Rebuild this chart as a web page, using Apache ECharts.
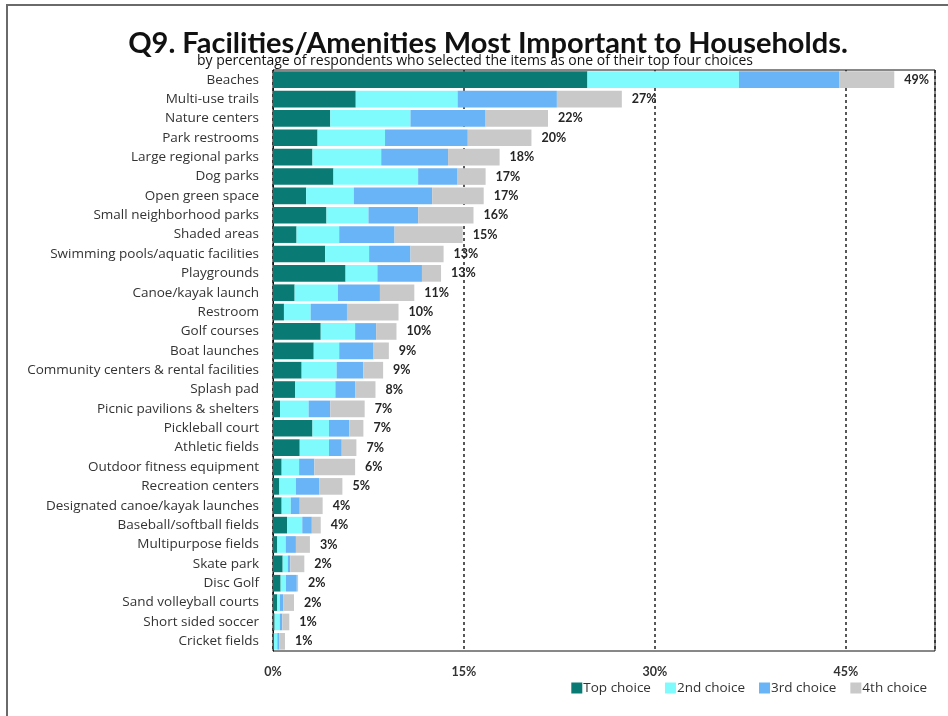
<!DOCTYPE html>
<html>
<head>
<meta charset="utf-8">
<script src="https://cdn.jsdelivr.net/npm/echarts@6/dist/echarts.min.js"></script>
<style>
html,body{margin:0;padding:0;background:#fff;}
#c{width:948px;height:716px;}
</style>
</head>
<body>
<div id="c"></div>
<script>
const categories = [
  "Beaches","Multi-use trails","Nature centers","Park restrooms","Large regional parks",
  "Dog parks","Open green space","Small neighborhood parks","Shaded areas","Swimming pools/aquatic facilities",
  "Playgrounds","Canoe/kayak launch","Restroom","Golf courses","Boat launches",
  "Community centers & rental facilities","Splash pad","Picnic pavilions & shelters","Pickleball court","Athletic fields",
  "Outdoor fitness equipment","Recreation centers","Designated canoe/kayak launches","Baseball/softball fields","Multipurpose fields",
  "Skate park","Disc Golf","Sand volleyball courts","Short sided soccer","Cricket fields"
];
const topChoice = [24.7,6.5,4.5,3.5,3.1,4.75,2.6,4.2,1.85,4.1,5.7,1.7,0.86,3.75,3.2,2.25,1.75,0.55,3.1,2.1,0.68,0.5,0.68,1.1,0.34,0.76,0.6,0.34,0.13,0.08];
const secondChoice = [11.9,8.0,6.3,5.3,5.4,6.65,3.75,3.3,3.35,3.45,2.5,3.4,2.1,2.7,2.0,2.75,3.15,2.25,1.3,2.3,1.37,1.3,0.72,1.2,0.66,0.4,0.42,0.2,0.4,0.26];
const thirdChoice = [7.9,7.8,5.9,6.5,5.25,3.1,6.15,3.9,4.35,3.25,3.5,3.3,2.85,1.65,2.7,2.1,1.55,1.7,1.6,1.0,1.2,1.85,0.7,0.75,0.8,0.2,0.85,0.26,0.2,0.15];
const fourthChoice = [4.3,5.1,4.9,5.0,4.05,2.2,4.05,4.35,5.35,2.6,1.5,2.7,4.05,1.6,1.2,1.55,1.6,2.7,1.1,1.15,3.2,1.8,1.8,0.7,1.1,1.1,0.1,0.85,0.55,0.45];
const totals = [49,27,22,20,18,17,17,16,15,13,13,11,10,10,9,9,8,7,7,7,6,5,4,4,3,2,2,2,1,1];
const seriesNames = ["Top choice","2nd choice","3rd choice","4th choice"];
const xTicks = [0,15,30,45];

const colors = ["#0a7b74","#80fbfd","#68b4f6","#c9c9c9"];
const FONT = "Lato";
const FONT2 = "Open Sans";

const chart = echarts.init(document.getElementById('c'), null, {renderer:'canvas'});
const dataSets = [topChoice, secondChoice, thirdChoice, fourthChoice];
const series = dataSets.map((d, i) => ({
  name: seriesNames[i],
  type: 'bar',
  stack: 'total',
  barCategoryGap: '14%',
  itemStyle: {color: colors[i]},
  data: d,
  label: i === 3 ? {
    show: true,
    position: 'right',
    distance: 10,
    fontFamily: FONT,
    fontWeight: 'bold',
    fontSize: 12.5,
    color: '#262626',
    formatter: p => totals[p.dataIndex] + '%'
  } : {show:false}
}));

chart.setOption({
  animation: false,
  backgroundColor: '#fff',
  color: colors,
  title: [{
    text: 'Q9. Facilities/Amenities Most Important to Households.',
    left: 483, textAlign: 'center', top: 24,
    textStyle: {fontFamily: FONT, fontWeight: 'bold', fontSize: 29, color: '#111'}
  },{
    text: 'by percentage of respondents who selected the items as one of their top four choices',
    left: 470, textAlign: 'center', top: 49,
    textStyle: {fontFamily: FONT2, fontWeight: 'normal', fontSize: 14, color: '#111'}
  }],
  legend: {
    data: seriesNames,
    right: 16, top: 676,
    itemWidth: 11, itemHeight: 11, itemGap: 14,
    icon: 'rect',
    textStyle: {fontFamily: FONT2, fontSize: 13.5, color: '#333', padding: [0,0,0,-4]}
  },
  graphic: [{
    type: 'rect',
    shape: {x: 7, y: 5, width: 1200, height: 1000},
    style: {fill: 'none', stroke: '#6a6a6a', lineWidth: 2},
    silent: true
  }],
  grid: {
    left: 273, right: 13, top: 70, bottom: 65,
    show: true, borderColor: '#111', borderWidth: 1, backgroundColor: 'transparent'
  },
  xAxis: {
    type: 'value', min: 0, max: 52, interval: 15,
    axisLine: {show: false},
    axisTick: {show: false},
    splitLine: {show: true, lineStyle: {color: '#222', type: [3,3], width: 1.5}},
    axisLabel: {
      margin: 14,
      fontFamily: FONT, fontWeight: 'bold', fontSize: 12.5, color: '#333',
      formatter: v => xTicks.indexOf(v) >= 0 ? v + '%' : '',
      showMaxLabel: false
    }
  },
  yAxis: {
    type: 'category', data: categories, inverse: true,
    axisLine: {show: true, lineStyle: {color: '#111'}},
    axisTick: {show: false},
    axisLabel: {margin: 14, fontFamily: FONT2, fontSize: 13.5, color: '#333'}
  },
  series: series
});
</script>
</body>
</html>
